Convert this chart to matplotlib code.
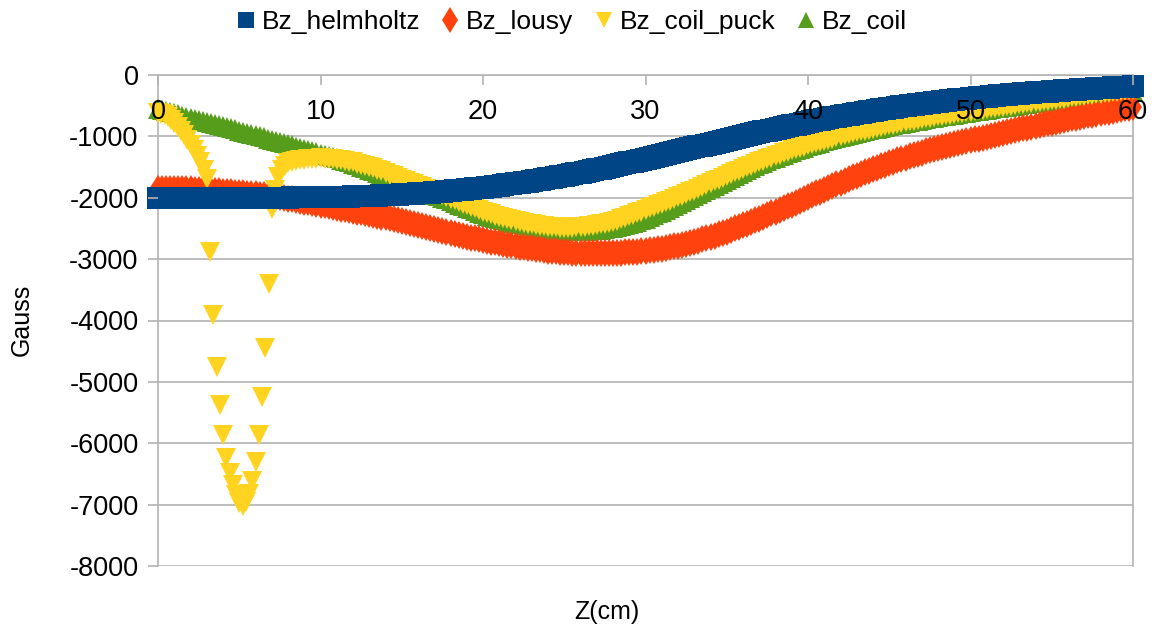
import numpy as np
import matplotlib
matplotlib.use('Agg')
import matplotlib.pyplot as plt
from matplotlib.lines import Line2D

plt.rcParams['font.family'] = ['Liberation Sans', 'DejaVu Sans']
plt.rcParams['axes.unicode_minus'] = False

# z positions (cm), every 0.25 cm
z = np.arange(0, 60.01, 0.25)
# coil_puck has finer steps around the spike
z_puck = np.concatenate([np.round(np.arange(0, 8.1, 0.2), 1), np.arange(8.25, 60.01, 0.25)])

bz_helmholtz = [
    -2000, -2000, -2000, -2000, -2000, -2000, -2000, -2000, -2000, -2000,
    -2000, -2000, -2000, -2000, -2000, -2000, -2000, -2000, -2000, -2000,
    -2000, -2000, -1999, -1999, -1999, -1998, -1998, -1998, -1998, -1997,
    -1997, -1996, -1996, -1995, -1995, -1994, -1993, -1992, -1992, -1991,
    -1990, -1989, -1988, -1986, -1985, -1983, -1982, -1980, -1978, -1976,
    -1974, -1971, -1969, -1966, -1964, -1961, -1958, -1955, -1952, -1948,
    -1945, -1941, -1937, -1933, -1929, -1925, -1920, -1915, -1910, -1905,
    -1899, -1893, -1888, -1881, -1875, -1868, -1862, -1855, -1848, -1840,
    -1833, -1825, -1817, -1809, -1801, -1792, -1783, -1774, -1765, -1755,
    -1746, -1736, -1726, -1715, -1705, -1694, -1684, -1673, -1662, -1650,
    -1639, -1627, -1615, -1602, -1590, -1577, -1564, -1551, -1538, -1524,
    -1511, -1497, -1483, -1468, -1454, -1439, -1425, -1410, -1395, -1380,
    -1365, -1350, -1335, -1319, -1304, -1288, -1273, -1257, -1242, -1226,
    -1211, -1195, -1180, -1164, -1149, -1133, -1118, -1102, -1087, -1071,
    -1056, -1040, -1025, -1010, -995, -980, -965, -950, -935, -920,
    -906, -891, -877, -863, -849, -835, -821, -807, -794, -780,
    -767, -754, -741, -728, -716, -704, -692, -680, -668, -656,
    -645, -634, -623, -612, -601, -590, -580, -570, -560, -550,
    -540, -530, -521, -512, -503, -494, -485, -476, -468, -460,
    -452, -444, -436, -428, -421, -413, -406, -399, -392, -385,
    -378, -371, -365, -358, -352, -346, -340, -334, -328, -322,
    -317, -311, -306, -300, -295, -290, -285, -280, -275, -270,
    -266, -261, -257, -252, -248, -243, -239, -235, -231, -227,
    -223, -219, -215, -211, -207, -203, -200, -196, -193, -189,
    -186]

bz_lousy = [
    -1850, -1851, -1852, -1853, -1855, -1857, -1860, -1862, -1865, -1868,
    -1872, -1876, -1880, -1885, -1890, -1895, -1900, -1905, -1910, -1915,
    -1920, -1926, -1932, -1938, -1945, -1952, -1960, -1967, -1975, -1984,
    -1993, -2003, -2013, -2025, -2037, -2050, -2062, -2075, -2087, -2100,
    -2112, -2125, -2138, -2151, -2164, -2177, -2190, -2202, -2215, -2228,
    -2240, -2253, -2266, -2280, -2293, -2306, -2320, -2335, -2350, -2365,
    -2380, -2396, -2412, -2428, -2445, -2462, -2478, -2494, -2510, -2526,
    -2543, -2559, -2575, -2590, -2605, -2620, -2635, -2649, -2663, -2677,
    -2690, -2703, -2716, -2728, -2740, -2752, -2763, -2774, -2785, -2796,
    -2806, -2816, -2825, -2834, -2843, -2852, -2860, -2867, -2873, -2879,
    -2885, -2889, -2893, -2897, -2900, -2902, -2903, -2904, -2905, -2904,
    -2903, -2902, -2900, -2897, -2893, -2889, -2885, -2881, -2876, -2871,
    -2865, -2857, -2849, -2840, -2830, -2818, -2806, -2793, -2780, -2765,
    -2749, -2732, -2715, -2697, -2679, -2660, -2640, -2618, -2596, -2573,
    -2550, -2526, -2501, -2476, -2450, -2423, -2396, -2368, -2340, -2312,
    -2283, -2254, -2225, -2197, -2168, -2139, -2110, -2080, -2050, -2020,
    -1990, -1960, -1930, -1900, -1870, -1841, -1812, -1784, -1755, -1726,
    -1697, -1668, -1640, -1613, -1587, -1561, -1535, -1510, -1485, -1460,
    -1435, -1412, -1389, -1367, -1345, -1324, -1304, -1284, -1265, -1246,
    -1227, -1208, -1190, -1173, -1157, -1141, -1125, -1110, -1095, -1080,
    -1065, -1050, -1035, -1020, -1005, -990, -975, -960, -945, -930,
    -915, -900, -885, -871, -857, -843, -830, -816, -802, -788,
    -775, -761, -747, -733, -720, -707, -695, -682, -670, -657,
    -645, -632, -620, -607, -595, -582, -570, -557, -545, -532,
    -520]

bz_coil = [
    -560, -576, -592, -608, -625, -642, -660, -677, -695, -712,
    -730, -747, -765, -782, -800, -817, -835, -852, -870, -887,
    -905, -923, -942, -961, -980, -998, -1017, -1036, -1055, -1073,
    -1092, -1111, -1130, -1148, -1167, -1186, -1205, -1223, -1242, -1261,
    -1280, -1300, -1320, -1340, -1360, -1381, -1402, -1423, -1445, -1468,
    -1492, -1516, -1540, -1565, -1590, -1615, -1640, -1665, -1690, -1715,
    -1740, -1766, -1792, -1818, -1845, -1871, -1897, -1923, -1950, -1976,
    -2002, -2028, -2055, -2082, -2110, -2137, -2165, -2191, -2218, -2244,
    -2270, -2291, -2312, -2331, -2350, -2368, -2387, -2404, -2420, -2435,
    -2449, -2462, -2475, -2486, -2497, -2506, -2515, -2521, -2527, -2531,
    -2535, -2537, -2539, -2540, -2540, -2538, -2535, -2530, -2525, -2518,
    -2510, -2500, -2490, -2478, -2465, -2450, -2435, -2412, -2388, -2364,
    -2340, -2312, -2283, -2254, -2225, -2194, -2163, -2132, -2100, -2068,
    -2035, -2003, -1970, -1936, -1903, -1869, -1835, -1802, -1770, -1737,
    -1705, -1672, -1640, -1607, -1575, -1545, -1515, -1485, -1455, -1427,
    -1400, -1372, -1345, -1320, -1296, -1272, -1248, -1226, -1204, -1182,
    -1160, -1140, -1121, -1101, -1082, -1064, -1047, -1029, -1012, -995,
    -979, -963, -947, -932, -917, -902, -887, -873, -859, -845,
    -831, -818, -805, -793, -780, -767, -755, -742, -730, -719,
    -708, -696, -685, -675, -665, -654, -644, -634, -624, -614,
    -604, -594, -584, -574, -564, -554, -544, -534, -524, -515,
    -506, -498, -489, -480, -471, -463, -454, -445, -436, -428,
    -419, -410, -401, -393, -384, -375, -366, -358, -349, -340,
    -331, -323, -314, -306, -299, -291, -284, -276, -269, -261,
    -254]

bz_coil_puck = [
    # 0 .. 8 step 0.2
    -620, -630, -650, -685, -735, -790, -850, -915, -985, -1060,
    -1140, -1225, -1315, -1420, -1540, -1690, -2890, -3915, -4750, -5380,
    -5870, -6240, -6490, -6680, -6850, -6970, -7030, -6960, -6820, -6620,
    -6310, -5870, -5250, -4455, -3410, -2180, -1880, -1670, -1550, -1475,
    -1430,
    # 8.25 .. 60 step 0.25
    -1410, -1395, -1386, -1378, -1372, -1366, -1363,
    -1360, -1362, -1365, -1371, -1378, -1388, -1398, -1411, -1425, -1442,
    -1460, -1480, -1500, -1523, -1547, -1572, -1598, -1624, -1650, -1677,
    -1705, -1730, -1755, -1780, -1805, -1831, -1857, -1883, -1910, -1936,
    -1962, -1988, -2015, -2041, -2068, -2094, -2120, -2146, -2173, -2199,
    -2225, -2248, -2270, -2290, -2310, -2329, -2347, -2364, -2380, -2395,
    -2410, -2423, -2435, -2445, -2455, -2463, -2470, -2476, -2481, -2485,
    -2488, -2487, -2485, -2482, -2478, -2472, -2465, -2456, -2445, -2433,
    -2420, -2406, -2390, -2371, -2350, -2326, -2300, -2275, -2250, -2225,
    -2200, -2175, -2150, -2125, -2100, -2074, -2048, -2022, -1995, -1968,
    -1940, -1913, -1885, -1855, -1825, -1795, -1765, -1735, -1705, -1675,
    -1645, -1616, -1587, -1558, -1530, -1502, -1475, -1447, -1420, -1395,
    -1370, -1345, -1320, -1297, -1275, -1252, -1230, -1208, -1187, -1166,
    -1145, -1126, -1107, -1088, -1070, -1052, -1035, -1017, -1000, -983,
    -967, -951, -935, -920, -905, -890, -875, -861, -847, -833,
    -820, -807, -795, -782, -770, -757, -745, -732, -720, -708,
    -697, -686, -675, -665, -655, -645, -635, -625, -615, -605,
    -595, -585, -575, -565, -555, -545, -535, -525, -515, -506,
    -497, -488, -480, -471, -462, -453, -445, -436, -427, -418,
    -410, -401, -392, -383, -375, -366, -357, -348, -340, -331,
    -322, -313, -305, -297, -290, -282, -275, -267, -260, -252,
    -245]

series_names = ['Bz_helmholtz', 'Bz_lousy', 'Bz_coil_puck', 'Bz_coil']
colors = ['#004586', '#ff420e', '#ffd320', '#579d1c']
markers = ['s', 'd', 'v', '^']
x_ticks = np.arange(0, 61, 10)
y_ticks = np.arange(-8000, 1, 1000)
grey = '#b3b3b3'

fig = plt.figure(figsize=(11.56, 6.29), dpi=100)
ax = fig.add_axes([158 / 1156, 1 - 566 / 629, 975 / 1156, 491 / 629])

for yt in y_ticks:
    ax.axhline(yt, color=grey, lw=1.2, zorder=0)

ax.plot(z, bz_coil, ls='none', marker='^', ms=14.5, mew=0, color=colors[3], clip_on=False, zorder=2.1)
ax.plot(z, bz_lousy, ls='none', marker='d', ms=14.5, mew=0, color=colors[1], clip_on=False, zorder=2.2)
ax.plot(z_puck, bz_coil_puck, ls='none', marker='v', ms=14.5, mew=0, color=colors[2], clip_on=False, zorder=2.3)
ax.plot(z, bz_helmholtz, ls='none', marker='s', ms=16, mew=0, color=colors[0], clip_on=False, zorder=2.4)

ax.set_xlim(0, 60)
ax.set_ylim(-8000, 0)
ax.set_xticks(x_ticks)
ax.set_yticks(y_ticks)

# x axis crosses at y=0 (top of the plot)
ax.spines['bottom'].set_position(('data', 0))
ax.spines['top'].set_visible(False)
for s in ['bottom', 'left', 'right']:
    ax.spines[s].set_color(grey)
    ax.spines[s].set_linewidth(1.2)
    ax.spines[s].set_zorder(1)
ax.tick_params(axis='both', direction='out', length=7, width=1.2, color=grey,
               labelsize=19.5, labelcolor='black')
ax.tick_params(axis='x', pad=10)
ax.tick_params(axis='y', pad=7)
ax.xaxis.set_zorder(5)
ax.yaxis.set_zorder(5)

fig.text(22 / 1156, 1 - 320 / 629, 'Gauss', rotation=90, ha='center', va='center', fontsize=18)
fig.text(607 / 1156, 1 - 612 / 629, 'Z(cm)', ha='center', va='center', fontsize=18)

leg_sizes = [11.5, 13, 11.5, 11.5]
handles = [Line2D([], [], ls='none', marker=m, ms=s, mew=0, color=c)
           for m, s, c in zip(markers, leg_sizes, colors)]
fig.legend(handles, series_names, loc='center', bbox_to_anchor=(0.495, 1 - 22 / 629), ncol=4,
           frameon=False, fontsize=19, handlelength=0.6, handletextpad=0.3,
           columnspacing=0.85, borderaxespad=0)

fig.savefig('out.png', dpi=100)
